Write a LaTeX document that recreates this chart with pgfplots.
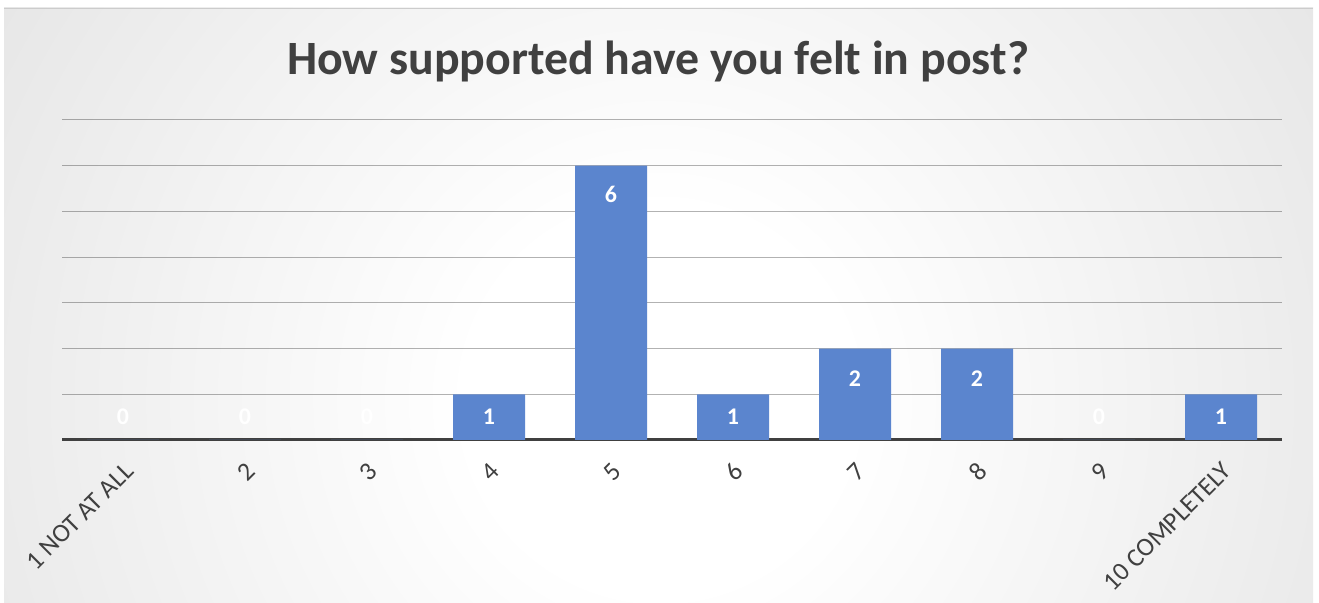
\documentclass[border=0pt]{standalone}
\usepackage{pgfplots}
\pgfplotsset{compat=1.18}
\usepackage{fontspec}
\setmainfont{Carlito}
\definecolor{barblue}{HTML}{5B85CE}
\definecolor{titlegray}{HTML}{404040}
\definecolor{ticklab}{HTML}{404040}
\definecolor{bggray}{HTML}{C4C4C4}
\definecolor{baseline}{HTML}{404040}
\pgfdeclareradialshading{bgshade}{\pgfpoint{0bp}{0bp}}{color(0bp)=(white); color(6bp)=(white); color(50bp)=(bggray)}
\pgfplotstableread{
x y
1 0
2 0
3 0
4 1
5 6
6 1
7 2
8 2
9 0
10 1
}\bars
\pgfplotstableread{
x ly v
1 0.5 0
2 0.5 0
3 0.5 0
4 0.5 1
5 5.38 6
6 0.5 1
7 1.35 2
8 1.35 2
9 0.5 0
10 0.5 1
}\labs
\begin{document}
\begin{tikzpicture}[x=1bp,y=1bp]
\path[use as bounding box] (0,0) rectangle (1319,603);
\begin{scope}
\clip (4,0) rectangle (1313,595);
\shade[shading=bgshade] (660,203) circle (800);
\end{scope}
\draw[black!20, line width=0.8bp] (4,595) -- (1313,595);
\node[anchor=base, font=\bfseries\fontsize{48}{56}\selectfont, text=titlegray] at (658,528) {How supported have you felt in post?};
\begin{axis}[
  at={(62bp,163bp)}, anchor=south west,
  scale only axis, width=1220bp, height=320bp,
  xmin=0.5, xmax=10.5, ymin=0, ymax=7,
  axis x line*=bottom, axis y line*=left,
  y axis line style={draw=none},
  x axis line style={line width=3bp, color=baseline, -},
  xtick={1,...,10},
  xticklabels={1 NOT AT ALL,2,3,4,5,6,7,8,9,10 COMPLETELY},
  ytick={1,...,7}, yticklabels={},
  major tick length=0pt,
  ymajorgrids,
  grid style={black, opacity=0.3, line width=1bp},
  xticklabel style={anchor=east, inner sep=0pt, xshift=6bp, yshift=-27bp, rotate=45,
    font=\fontsize{26}{30}\selectfont, text=ticklab},
]
\addplot[ybar, bar width=72bp, fill=barblue, draw=none] table[x=x, y=y] {\bars};
\addplot[draw=none, mark=none, nodes near coords, point meta=explicit symbolic,
  nodes near coords style={anchor=center, text=white, font=\bfseries\fontsize{24}{28}\selectfont}]
  table[x=x, y=ly, meta=v] {\labs};
\end{axis}
\end{tikzpicture}
\end{document}
